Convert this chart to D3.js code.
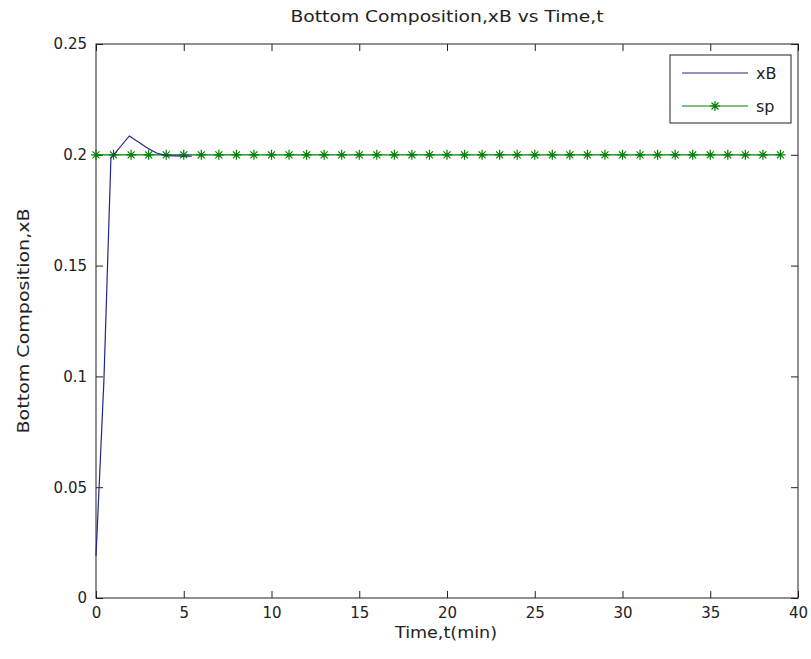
<!DOCTYPE html>
<html><head><meta charset="utf-8">
<script src="https://cdn.jsdelivr.net/npm/d3@7"></script>
<style>body{margin:0;background:#fff}svg{display:block}text{font-family:"DejaVu Sans",sans-serif;fill:#222}</style>
</head><body>
<script>
const title = "Bottom Composition,xB vs Time,t";
const xLabel = "Time,t(min)";
const yLabel = "Bottom Composition,xB";
const xTicks = [0,5,10,15,20,25,30,35,40];
const yTicks = [0,0.05,0.1,0.15,0.2,0.25];
const yTickLabels = ["0","0.05","0.1","0.15","0.2","0.25"];
const xbTime = [0, 0.45, 0.85, 1.9, 2.95, 3.45, 4, 5, 5.45];
const xbValue = [0.019, 0.098, 0.1985, 0.2085, 0.203, 0.2008, 0.1996, 0.1994, 0.1994];
const spTime = d3.range(0, 40, 1);
const spValue = spTime.map(() => 0.2);
const seriesNames = ["xB","sp"];
const colors = {xB:"#24248c", sp:"#008000"};

const W=811,H=659, L=96, R=798, T=44, B=598;
const svg=d3.select("body").append("svg").attr("width",W).attr("height",H);
const x=d3.scaleLinear().domain([0,40]).range([L,R]);
const y=d3.scaleLinear().domain([0,0.25]).range([B,T]);

svg.append("rect").attr("x",L).attr("y",T).attr("width",R-L).attr("height",B-T)
  .attr("fill","#fff").attr("stroke","#222").attr("stroke-width",1);

const fs=15;
const xa=svg.append("g").attr("transform",`translate(0,${B})`)
  .call(d3.axisBottom(x).tickValues(xTicks).tickSizeInner(-7).tickSizeOuter(0).tickPadding(9).tickFormat(d3.format("d")));
const xt=svg.append("g").attr("transform",`translate(0,${T})`)
  .call(d3.axisTop(x).tickValues(xTicks).tickSizeInner(-7).tickSizeOuter(0).tickFormat(""));
const ya=svg.append("g").attr("transform",`translate(${L},0)`)
  .call(d3.axisLeft(y).tickValues(yTicks).tickSizeInner(-7).tickSizeOuter(0).tickPadding(9).tickFormat((d,i)=>yTickLabels[i]));
const yr=svg.append("g").attr("transform",`translate(${R},0)`)
  .call(d3.axisRight(y).tickValues(yTicks).tickSizeInner(-7).tickSizeOuter(0).tickFormat(""));
[xa,xt,ya,yr].forEach(g=>{g.select(".domain").remove();g.selectAll("line").attr("stroke","#222");
  g.selectAll("text").attr("font-size",fs).attr("font-family","DejaVu Sans").attr("fill","#222");});
xa.selectAll("text").attr("dy","0.71em");

const line=d3.line().x(d=>x(d[0])).y(d=>y(d[1]));
const spData=spTime.map((t,i)=>[t,spValue[i]]);
svg.append("path").datum(spData).attr("d",line).attr("fill","none").attr("stroke",colors.sp).attr("stroke-width",1.2);
function star(g,cx,cy,s,col){
  const p=`M${cx-s},${cy}L${cx+s},${cy}M${cx},${cy-s}L${cx},${cy+s}M${cx-s*0.7},${cy-s*0.7}L${cx+s*0.7},${cy+s*0.7}M${cx-s*0.7},${cy+s*0.7}L${cx+s*0.7},${cy-s*0.7}`;
  g.append("path").attr("d",p).attr("stroke",col).attr("stroke-width",1.2).attr("fill","none");
}
const mk=svg.append("g");
spData.forEach(d=>star(mk,x(d[0]),y(d[1]),5,colors.sp));

const xbData=xbTime.map((t,i)=>[t,xbValue[i]]);
svg.append("path").datum(xbData).attr("d",line).attr("fill","none").attr("stroke",colors.xB).attr("stroke-width",1.2);

svg.append("text").attr("x",(L+R)/2).attr("y",22).attr("text-anchor","middle").attr("font-size",16)
  .attr("textLength",313).attr("lengthAdjust","spacingAndGlyphs").text(title);
svg.append("text").attr("x",(L+R)/2-1).attr("y",638).attr("text-anchor","middle").attr("font-size",16)
  .attr("textLength",102).attr("lengthAdjust","spacingAndGlyphs").text(xLabel);
svg.append("text").attr("transform",`translate(29,${(T+B)/2}) rotate(-90)`).attr("text-anchor","middle").attr("font-size",16)
  .attr("textLength",225).attr("lengthAdjust","spacingAndGlyphs").text(yLabel);

const lg=svg.append("g");
lg.append("rect").attr("x",670).attr("y",55).attr("width",121).attr("height",68).attr("fill","#fff").attr("stroke","#222");
const rows=[73,106];
seriesNames.forEach((n,i)=>{
  lg.append("line").attr("x1",682).attr("x2",748).attr("y1",rows[i]).attr("y2",rows[i]).attr("stroke",colors[n]).attr("stroke-width",1.2);
  if(n==="sp") star(lg,715,rows[i],5,colors.sp);
  lg.append("text").attr("x",756).attr("y",rows[i]+6).attr("font-size",16).text(n);
});
</script>
</body></html>
